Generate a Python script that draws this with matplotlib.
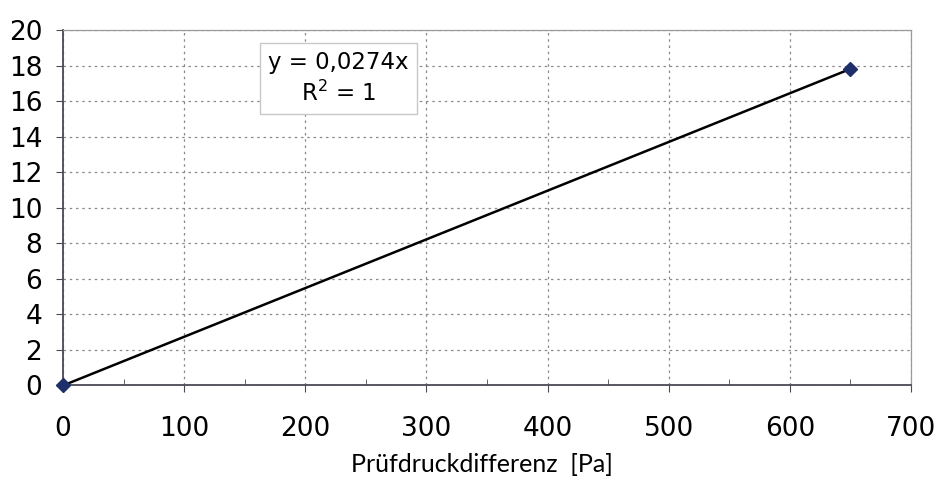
import numpy as np
import matplotlib.pyplot as plt
from matplotlib.ticker import MultipleLocator

# measured points
pressure = [0, 650]
flow = [0, 17.8]
slope = 0.0274

eq_text = "y = 0,0274x\nR$^2$ = 1"
x_label = "Prüfdruckdifferenz  [Pa]"

fig = plt.figure(figsize=(9.36, 4.86), dpi=100)
ax = fig.add_axes([0.0673, 0.2068, 0.906, 0.7315])

xs = np.array(pressure)
ax.plot(xs, slope * xs, color="black", lw=1.8, zorder=3)
ax.plot(pressure, flow, ls="none", marker="D", ms=7, color="#1f2f6b",
        zorder=4, clip_on=False)

ax.set_xlim(0, 700)
ax.set_ylim(0, 20)
ax.xaxis.set_major_locator(MultipleLocator(100))
ax.xaxis.set_minor_locator(MultipleLocator(50))
ax.yaxis.set_major_locator(MultipleLocator(2))

ax.grid(True, which="major", ls=(0, (2, 3)), color="#8a8a8a", lw=0.9)
ax.set_axisbelow(True)

for side in ["top", "right"]:
    ax.spines[side].set_color("#9a9a9a")
    ax.spines[side].set_linewidth(0.9)
for side in ["left", "bottom"]:
    ax.spines[side].set_color("#4a4a55")
    ax.spines[side].set_linewidth(1.3)

ax.tick_params(axis="both", which="major", labelsize=19, length=5, color="#4a4a55")
ax.tick_params(axis="x", which="major", pad=17)
ax.tick_params(axis="y", which="major", pad=10)
ax.tick_params(axis="x", which="minor", direction="in", length=4, color="#4a4a55")

ax.set_xlabel(x_label, family="Lato", fontsize=18)
ax.xaxis.set_label_coords(0.494, -0.19)

ax.text(0.325, 0.863, eq_text, transform=ax.transAxes, ha="center", va="center",
        fontsize=16.5, linespacing=1.35,
        bbox=dict(boxstyle="square,pad=0.35", fc="white", ec="#c8c8c8", lw=1))

fig.savefig("out.png", dpi=100)
